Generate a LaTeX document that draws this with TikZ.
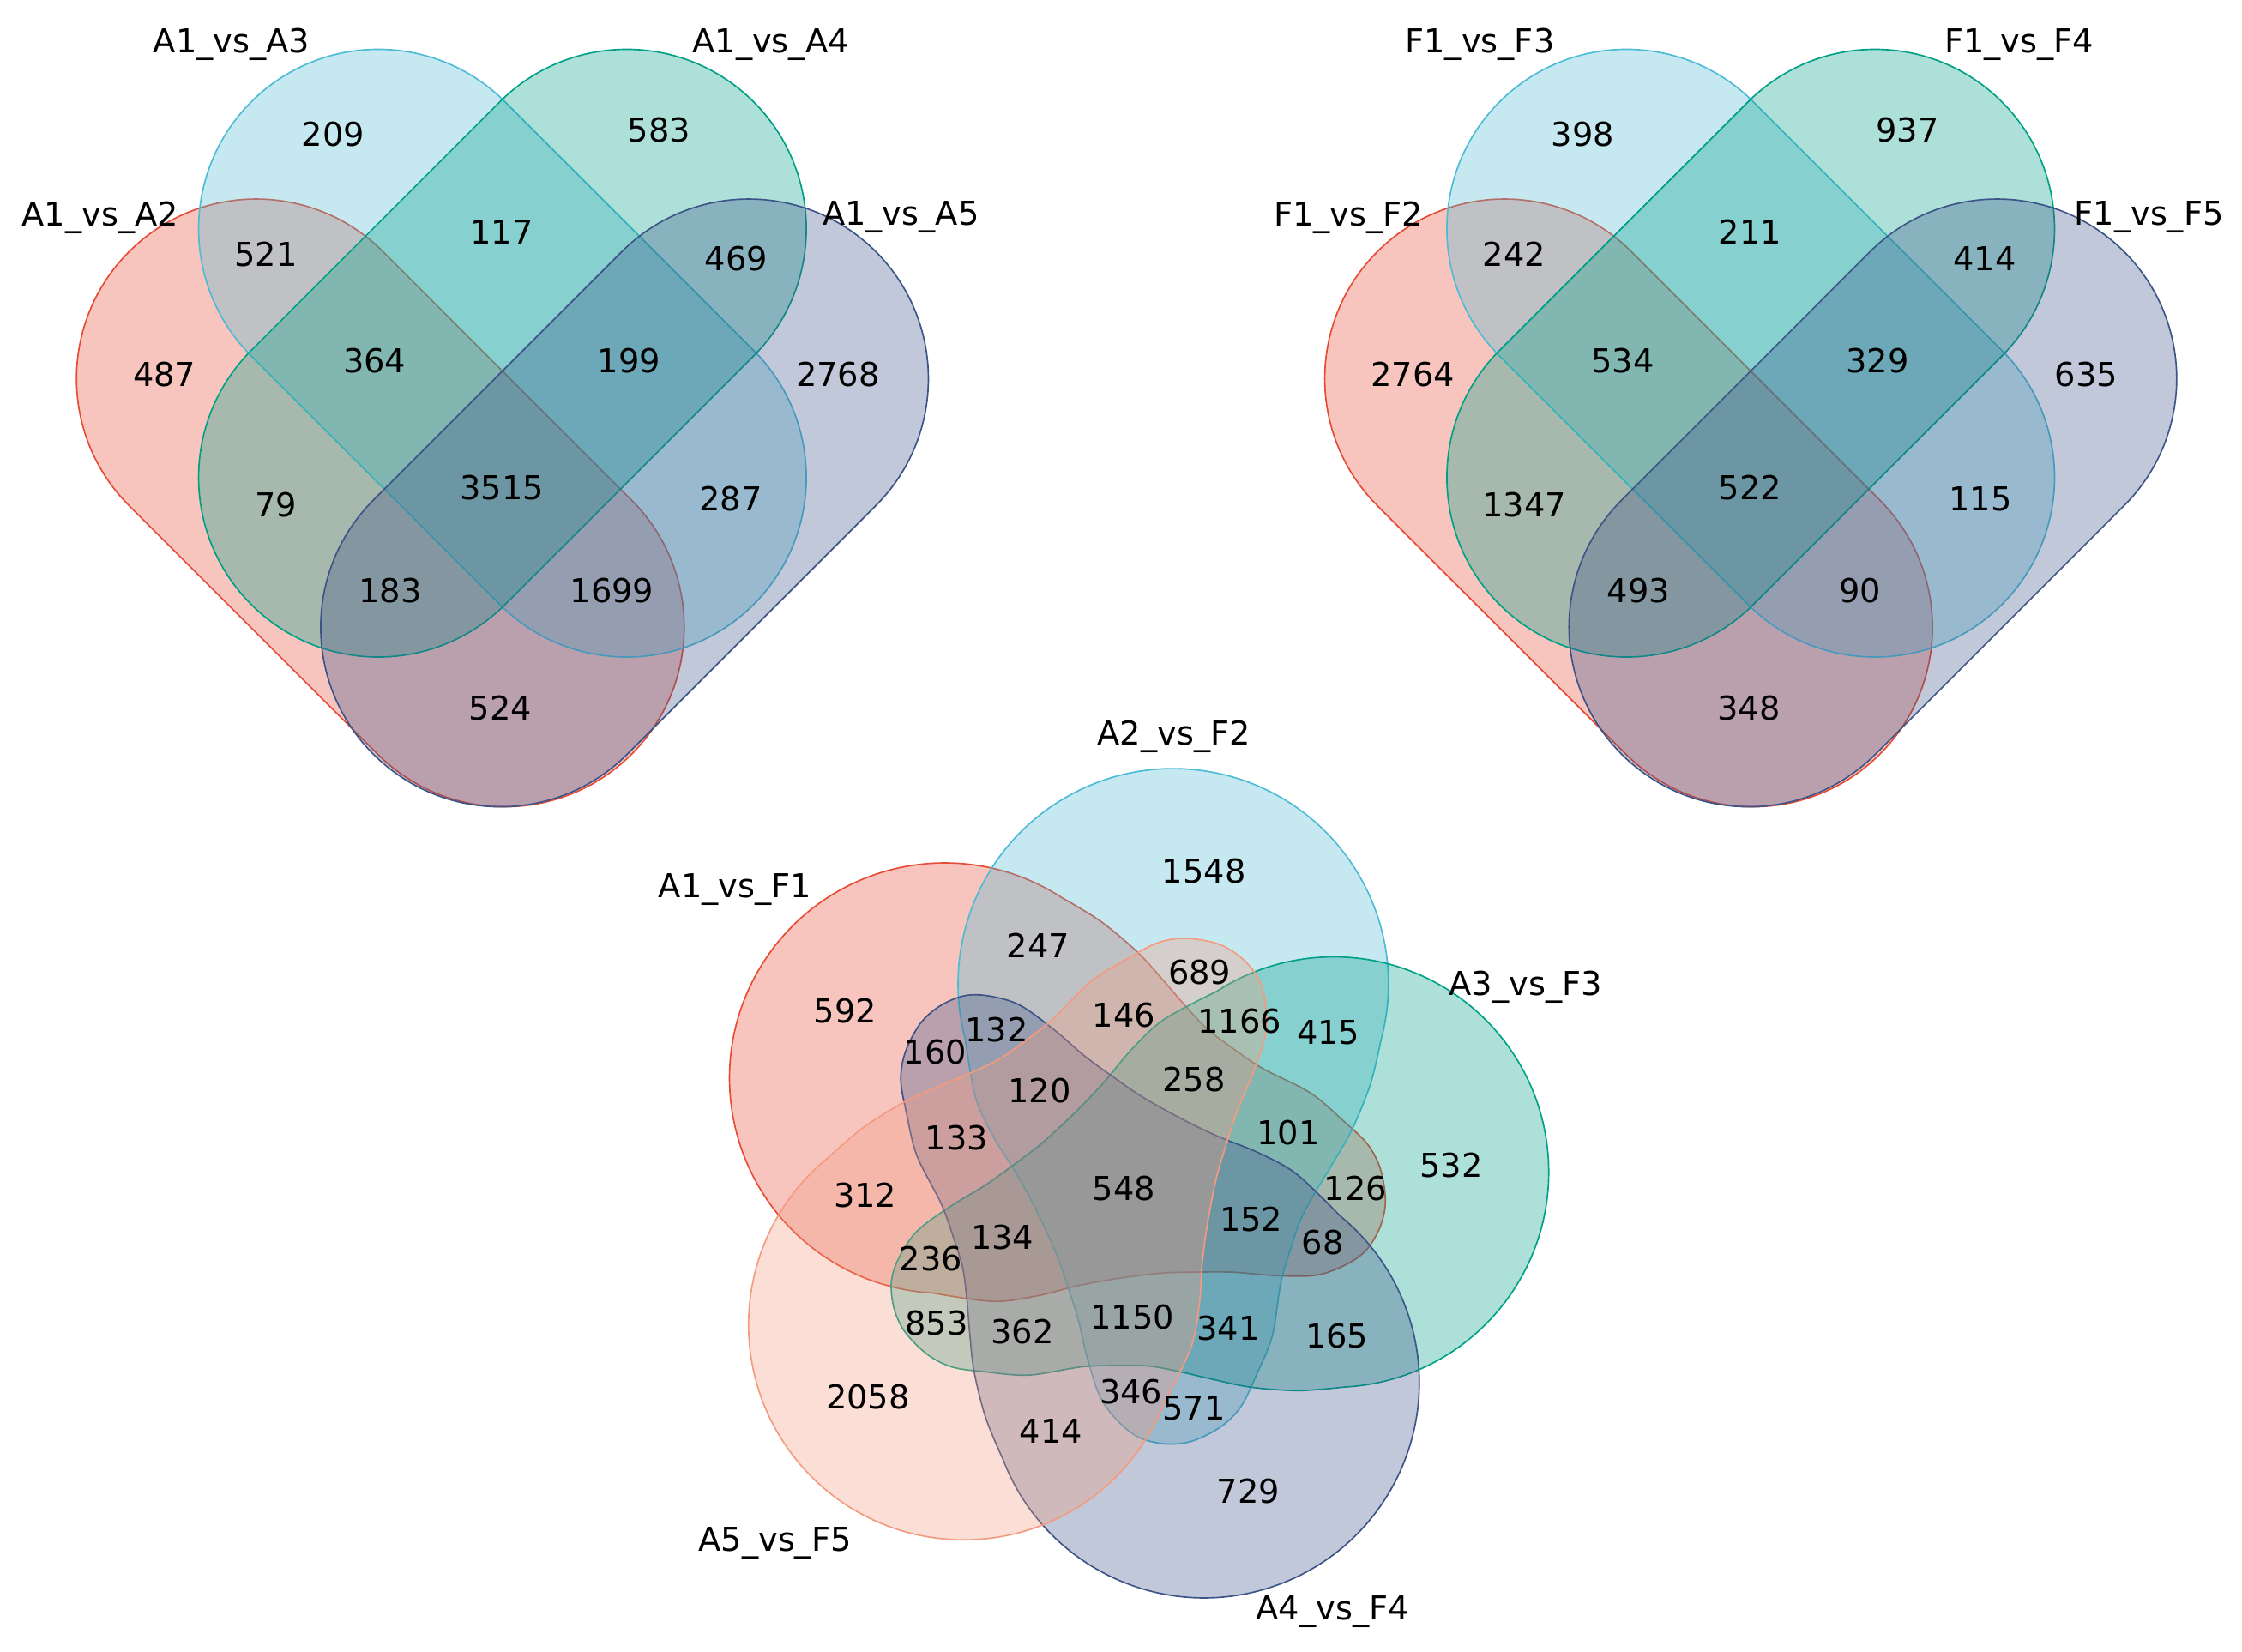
\documentclass[tikz,border=0pt]{standalone}
\usepackage{fontspec}
\setmainfont{DejaVu Sans}
\definecolor{cRed}{HTML}{E64B35}
\definecolor{cCyan}{HTML}{4DBBD5}
\definecolor{cGreen}{HTML}{00A087}
\definecolor{cNavy}{HTML}{3C5488}
\definecolor{cSalmon}{HTML}{F39B7F}
\begin{document}
\begin{tikzpicture}[x=1pt,y=-1pt,
  setshape/.style={draw=#1, fill=#1, fill opacity=0.32, line width=1pt},
  txt/.style={font=\fontsize{23}{27}\selectfont, inner sep=0pt, text=black},
  fourpath/.style={rounded corners=125.6pt, insert path={(-248.5,-125.6) rectangle (248.5,125.6)}},
  fivepath/.style={insert path={(965.9,727) arc[start angle=15, end angle=-195, radius=150.5]
    -- plot[smooth, tension=0.55] coordinates {
    (675.1,727) (682.5,768.2) (695.4,796) (711,821) (724.5,846) (737.8,874.6) (745.8,897)
    (753.8,921.8) (760.5,950) (769.8,977.8) (783.8,995.8) (797.8,1005.8) (815.8,1009.8)
    (833.8,1007.8) (853.8,997.8) (867.8,983.8) (878.5,962) (889.8,934.2) (895.8,896.9)
    (903.8,869.6) (910,852) (920,833.5) (933,812) (946,789) (958.5,758) (965.9,727)} -- cycle}}
]
\useasboundingbox (0,0) rectangle (1568,1155);

% ---------- top-left four-set diagram ----------
\begin{scope}
  \path[setshape=cRed, shift={(266,351.7)}, rotate=-45, fourpath];
  \path[setshape=cCyan, shift={(351.4,247)}, rotate=-45, fourpath];
  \path[setshape=cGreen, shift={(351.4,247)}, rotate=45, fourpath];
  \path[setshape=cNavy, shift={(436.8,351.7)}, rotate=45, fourpath];
  \node[txt] (la2) at (70,152) {A1\_vs\_A2};
  \node[txt] (la3) at (162,31) {A1\_vs\_A3};
  \node[txt] (la4) at (539,31) {A1\_vs\_A4};
  \node[txt] (la5) at (630,152) {A1\_vs\_A5};
  \node[txt] (a1) at (233,94) {209};
  \node[txt] (a2) at (461,91) {583};
  \node[txt] (a3) at (186,178) {521};
  \node[txt] (a4) at (351,162) {117};
  \node[txt] (a5) at (515,181) {469};
  \node[txt] (a6) at (115,262) {487};
  \node[txt] (a7) at (262,252) {364};
  \node[txt] (a8) at (440,252) {199};
  \node[txt] (a9) at (586,262) {2768};
  \node[txt] (a10) at (193,353) {79};
  \node[txt] (a11) at (351,341) {3515};
  \node[txt] (a12) at (511,349) {287};
  \node[txt] (a13) at (273,413) {183};
  \node[txt] (a14) at (428,413) {1699};
  \node[txt] (a15) at (350,495) {524};
\end{scope}

% ---------- top-right four-set diagram ----------
\begin{scope}[shift={(873,0)}]
  \path[setshape=cRed, shift={(266,351.7)}, rotate=-45, fourpath];
  \path[setshape=cCyan, shift={(351.4,247)}, rotate=-45, fourpath];
  \path[setshape=cGreen, shift={(351.4,247)}, rotate=45, fourpath];
  \path[setshape=cNavy, shift={(436.8,351.7)}, rotate=45, fourpath];
  \node[txt] (lf2) at (70,152) {F1\_vs\_F2};
  \node[txt] (lf3) at (162,31) {F1\_vs\_F3};
  \node[txt] (lf4) at (539,31) {F1\_vs\_F4};
  \node[txt] (lf5) at (630,152) {F1\_vs\_F5};
  \node[txt] (f1) at (234,94) {398};
  \node[txt] (f2) at (461,91) {937};
  \node[txt] (f3) at (186,178) {242};
  \node[txt] (f4) at (351,162) {211};
  \node[txt] (f5) at (515,181) {414};
  \node[txt] (f6) at (115,262) {2764};
  \node[txt] (f7) at (262,252) {534};
  \node[txt] (f8) at (440,252) {329};
  \node[txt] (f9) at (586,262) {635};
  \node[txt] (f10) at (193,353) {1347};
  \node[txt] (f11) at (351,341) {522};
  \node[txt] (f12) at (512,349) {115};
  \node[txt] (f13) at (273,413) {493};
  \node[txt] (f14) at (428,413) {90};
  \node[txt] (f15) at (350,495) {348};
\end{scope}

% ---------- bottom five-set diagram ----------
\path[setshape=cRed, rotate around={72:(786,831)}, fivepath];
\path[setshape=cCyan, fivepath];
\path[setshape=cGreen, rotate around={-72:(786,831)}, fivepath];
\path[setshape=cNavy, rotate around={-144:(786,831)}, fivepath];
\path[setshape=cSalmon, rotate around={144:(786,831)}, fivepath];

\node[txt] (lb2) at (821,515) {A2\_vs\_F2};
\node[txt] (lb1) at (514,622) {A1\_vs\_F1};
\node[txt] (lb3) at (1067,690) {A3\_vs\_F3};
\node[txt] (lb5) at (542,1079) {A5\_vs\_F5};
\node[txt] (lb4) at (932,1127) {A4\_vs\_F4};

\node[txt] (b1) at (842,609) {1548};
\node[txt] (b2) at (726,661) {247};
\node[txt] (b3) at (839,680) {689};
\node[txt] (b4) at (591,707) {592};
\node[txt] (b5) at (786,710) {146};
\node[txt] (b6) at (867,714) {1166};
\node[txt] (b7) at (929,722) {415};
\node[txt] (b8) at (697,720) {132};
\node[txt] (b9) at (654,736) {160};
\node[txt] (b10) at (727,763) {120};
\node[txt] (b11) at (835,755) {258};
\node[txt] (b12) at (669,796) {133};
\node[txt] (b13) at (901,792) {101};
\node[txt] (b14) at (1015,815) {532};
\node[txt] (b15) at (605,836) {312};
\node[txt] (b16) at (786,831) {548};
\node[txt] (b17) at (948,831) {126};
\node[txt] (b18) at (875,853) {152};
\node[txt] (b19) at (701,865) {134};
\node[txt] (b20) at (651,880) {236};
\node[txt] (b21) at (925,869) {68};
\node[txt] (b22) at (655,925) {853};
\node[txt] (b23) at (715,931) {362};
\node[txt] (b24) at (792,921) {1150};
\node[txt] (b25) at (859,929) {341};
\node[txt] (b26) at (935,934) {165};
\node[txt] (b27) at (607,977) {2058};
\node[txt] (b28) at (791,973) {346};
\node[txt] (b29) at (835,985) {571};
\node[txt] (b30) at (735,1001) {414};
\node[txt] (b31) at (873,1043) {729};
\end{tikzpicture}
\end{document}
